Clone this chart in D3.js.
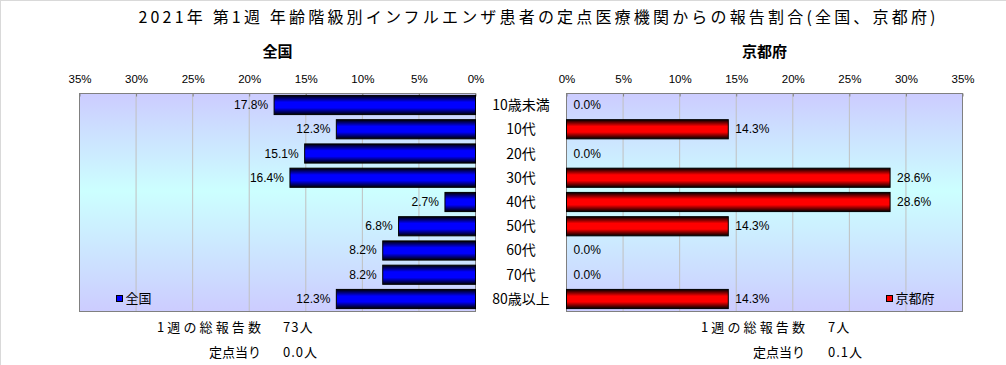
<!DOCTYPE html>
<html>
<head>
<meta charset="utf-8">
<script src="https://cdn.jsdelivr.net/npm/d3@7"></script>
<style>
  body { margin: 0; background: #fff; }
  svg { display: block; font-family: "Noto Sans CJK JP", "Noto Sans", sans-serif; }
</style>
</head>
<body>
<div id="chart"></div>
<script>
// data
var categories = ["10歳未満", "10代", "20代", "30代", "40代", "50代", "60代", "70代", "80歳以上"];
var nationalValues = [17.8, 12.3, 15.1, 16.4, 2.7, 6.8, 8.2, 8.2, 12.3];
var kyotoValues = [0.0, 14.3, 0.0, 28.6, 28.6, 14.3, 0.0, 0.0, 14.3];
var tickValues = [0, 5, 10, 15, 20, 25, 30, 35];
var nationalTotal = "73人", nationalPerSite = "0.0人";
var kyotoTotal = "7人", kyotoPerSite = "0.1人";

var width = 1006, height = 365;
var plotTop = 93, plotBottom = 311;

var svg = d3.select("#chart").append("svg").attr("width", width).attr("height", height);
var defs = svg.append("defs");

// background of plot areas
var bg = defs.append("linearGradient").attr("id", "bgGrad").attr("x1", 0).attr("y1", 0).attr("x2", 0).attr("y2", 1);
bg.append("stop").attr("offset", "0%").attr("stop-color", "#ccccff");
bg.append("stop").attr("offset", "45%").attr("stop-color", "#ccffff");
bg.append("stop").attr("offset", "100%").attr("stop-color", "#ccccff");

function barGrad(id, c) {
    var g = defs.append("linearGradient").attr("id", id).attr("x1", 0).attr("y1", 0).attr("x2", 0).attr("y2", 1);
    g.append("stop").attr("offset", "0%").attr("stop-color", "#000");
    g.append("stop").attr("offset", "35%").attr("stop-color", c);
    g.append("stop").attr("offset", "65%").attr("stop-color", c);
    g.append("stop").attr("offset", "100%").attr("stop-color", "#000");
}
barGrad("blueGrad", "#0000ff");
barGrad("redGrad", "#ff0000");

// outer frame lines
svg.append("line").attr("x1", 0.5).attr("y1", 0).attr("x2", 0.5).attr("y2", height).attr("stroke", "#d9d9d9");
svg.append("line").attr("x1", 0).attr("y1", 0.5).attr("x2", width).attr("y2", 0.5).attr("stroke", "#d9d9d9");

// title
svg.append("text")
    .attr("x", 537).attr("y", 23)
    .attr("text-anchor", "middle")
    .attr("font-size", 16)
    .attr("textLength", 797).attr("lengthAdjust", "spacing")
    .text("2021年 第1週 年齢階級別インフルエンザ患者の定点医療機関からの報告割合(全国、京都府)");

var y = d3.scaleBand().domain(categories).range([plotTop, plotBottom]).paddingInner(0.21).paddingOuter(0.1);

var xLeft = d3.scaleLinear().domain([0, 35]).range([475.5, 79.5]);
var xRight = d3.scaleLinear().domain([0, 35]).range([566.5, 962.5]);

function panel(x, values, fillId, name, legendX, reversed) {
    var x0 = x(0), x35 = x(35);
    var left = Math.min(x0, x35), right = Math.max(x0, x35);
    var rows = categories.map(function(c, i) { return { cat: c, v: values[i] }; });

    svg.append("rect")
        .attr("x", left).attr("y", plotTop + 0.5)
        .attr("width", right - left).attr("height", plotBottom - plotTop)
        .attr("fill", "url(#bgGrad)");

    svg.append("g").selectAll("line")
        .data(tickValues.slice(1, -1))
        .enter().append("line")
        .attr("x1", function(d) { return x(d); })
        .attr("x2", function(d) { return x(d); })
        .attr("y1", plotTop).attr("y2", plotBottom)
        .attr("stroke", "#c0c0c0");

    svg.append("rect")
        .attr("x", left).attr("y", plotTop + 0.5)
        .attr("width", right - left).attr("height", plotBottom - plotTop)
        .attr("fill", "none").attr("stroke", "#808080");

    // top axis labels
    var axis = svg.append("g")
        .attr("transform", "translate(0," + (plotTop + 0.5) + ")")
        .call(d3.axisTop(x).tickValues(tickValues).tickSize(0).tickFormat(function(d) { return d + "%"; }));
    axis.select(".domain").remove();
    axis.selectAll(".tick line").attr("stroke", "#808080").attr("y1", 0).attr("y2", 3);
    axis.selectAll(".tick text")
        .attr("y", -11)
        .attr("font-family", "'Liberation Sans', sans-serif")
        .attr("font-size", 11.5).attr("fill", "#000");

    // bars
    svg.append("g").selectAll("rect")
        .data(rows.filter(function(d) { return d.v > 0; }))
        .enter().append("rect")
        .attr("x", function(d) { return Math.min(x(0), x(d.v)); })
        .attr("y", function(d) { return y(d.cat); })
        .attr("width", function(d) { return Math.abs(x(d.v) - x(0)); })
        .attr("height", y.bandwidth())
        .attr("fill", "url(#" + fillId + ")")
        .attr("stroke", "#000");

    // value labels
    svg.append("g").selectAll("text")
        .data(rows)
        .enter().append("text")
        .attr("x", function(d) { return reversed ? x(d.v) - 6 : x(d.v) + 7; })
        .attr("y", function(d) { return y(d.cat) + y.bandwidth() / 2 + 4; })
        .attr("text-anchor", reversed ? "end" : "start")
        .attr("font-family", "'Liberation Sans', sans-serif")
        .attr("font-size", 12)
        .text(function(d) { return d.v.toFixed(1) + "%"; });

    // legend inside plot
    svg.append("rect")
        .attr("x", legendX).attr("y", 295.5).attr("width", 6).attr("height", 6)
        .attr("fill", reversed ? "#0000ff" : "#ff0000").attr("stroke", "#000");
    svg.append("text")
        .attr("x", legendX + 9).attr("y", 303)
        .attr("font-size", 13)
        .text(name);

    // panel title
    svg.append("text")
        .attr("x", (left + right) / 2).attr("y", 57)
        .attr("text-anchor", "middle")
        .attr("font-size", 15).attr("font-weight", "bold")
        .text(name);
}

panel(xLeft, nationalValues, "blueGrad", "全国", 116.5, true);
panel(xRight, kyotoValues, "redGrad", "京都府", 886.5, false);

// category labels
svg.append("g").selectAll("text")
    .data(categories)
    .enter().append("text")
    .attr("x", 521)
    .attr("y", function(d) { return y(d) + y.bandwidth() / 2 + 5; })
    .attr("text-anchor", "middle")
    .attr("font-size", 14)
    .text(function(d) { return d; });

// footer
function footer(labelEnd, valueStart, total, perSite) {
    svg.append("text").attr("x", labelEnd - 104).attr("y", 332)
        .attr("font-size", 13)
        .attr("textLength", 104).attr("lengthAdjust", "spacing")
        .text("1週の総報告数");
    svg.append("text").attr("x", valueStart).attr("y", 332)
        .attr("font-size", 13).attr("letter-spacing", 1).text(total);
    svg.append("text").attr("x", labelEnd).attr("y", 357).attr("text-anchor", "end")
        .attr("font-size", 13).text("定点当り");
    svg.append("text").attr("x", valueStart).attr("y", 357)
        .attr("font-size", 13).attr("letter-spacing", 1).text(perSite);
}
footer(261, 283, nationalTotal, nationalPerSite);
footer(805, 828, kyotoTotal, kyotoPerSite);
</script>
</body>
</html>
